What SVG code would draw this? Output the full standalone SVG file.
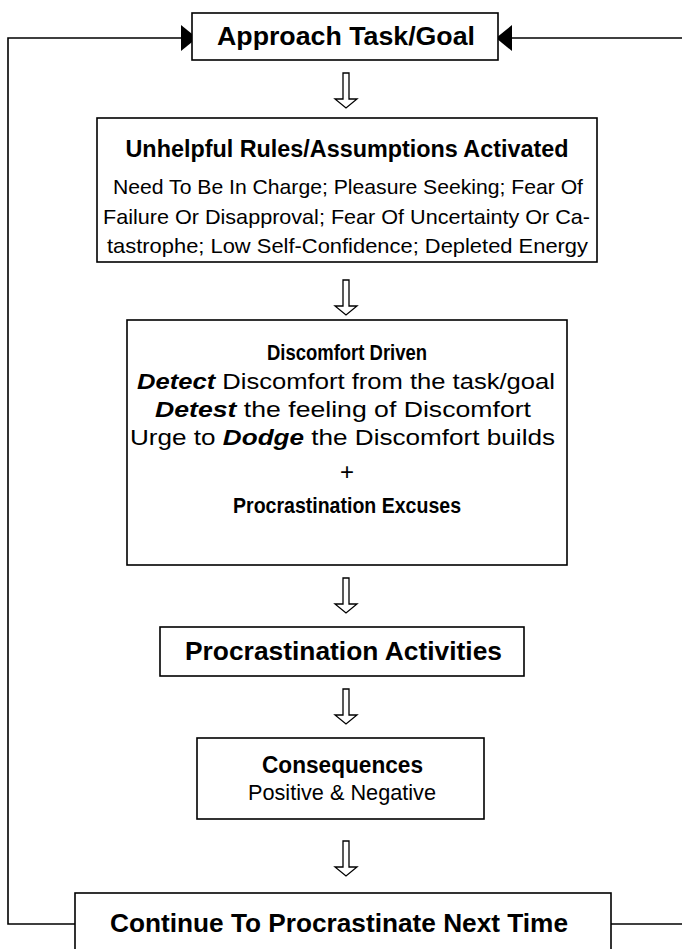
<svg xmlns="http://www.w3.org/2000/svg" width="682" height="949" viewBox="0 0 682 949">
<style>
.box{fill:#fff;stroke:#000;stroke-width:1.6}
.ln{fill:none;stroke:#000;stroke-width:1.6}
.ar{fill:#fff;stroke:#000;stroke-width:1.3;stroke-linejoin:miter}
.hd{fill:#000}
text{font-family:"Liberation Sans",Arial,sans-serif;fill:#000;text-anchor:middle}
.b{font-weight:bold}
.bi{font-weight:bold;font-style:italic}
</style>
<defs>
<path id="dn" d="M-3,0 H3 V26 H11 L0,35 L-11,26 H-3 Z"/>
</defs>
<g id="connectors">
<polyline class="ln" points="75,924 8,924 8,38 182,38"/>
<polygon class="hd" points="181,25 197,38 181,51"/>
<line class="ln" x1="510" y1="38" x2="682" y2="38"/>
<polygon class="hd" points="512,25 496,38 512,51"/>
<line class="ln" x1="611" y1="924" x2="682" y2="924"/>
<use href="#dn" class="ar" x="346" y="73"/>
<use href="#dn" class="ar" x="346" y="280"/>
<use href="#dn" class="ar" x="346" y="578"/>
<use href="#dn" class="ar" x="346" y="689"/>
<use href="#dn" class="ar" x="346" y="841"/>
</g>
<g id="approach">
<rect class="box" x="192" y="13" width="306" height="47"/>
<text class="b" x="346" y="45" font-size="25" textLength="258" lengthAdjust="spacingAndGlyphs">Approach Task/Goal</text>
</g>
<g id="rules">
<rect class="box" x="97" y="118" width="500" height="144"/>
<text class="b" x="347" y="157" font-size="23.5" textLength="443" lengthAdjust="spacingAndGlyphs">Unhelpful Rules/Assumptions Activated</text>
<text x="348" y="194" font-size="21" textLength="470" lengthAdjust="spacingAndGlyphs">Need To Be In Charge; Pleasure Seeking; Fear Of</text>
<text x="346.5" y="224" font-size="21" textLength="487" lengthAdjust="spacingAndGlyphs">Failure Or Disapproval; Fear Of Uncertainty Or Ca-</text>
<text x="347.5" y="253" font-size="21" textLength="481" lengthAdjust="spacingAndGlyphs">tastrophe; Low Self-Confidence; Depleted Energy</text>
</g>
<g id="discomfort">
<rect class="box" x="127" y="320" width="440" height="245"/>
<text class="b" x="347" y="360" font-size="22" textLength="160" lengthAdjust="spacingAndGlyphs">Discomfort Driven</text>
<text x="346" y="389" font-size="21.5" textLength="418" lengthAdjust="spacingAndGlyphs"><tspan class="bi">Detect</tspan> Discomfort from the task/goal</text>
<text x="343" y="417" font-size="21.5" textLength="376" lengthAdjust="spacingAndGlyphs"><tspan class="bi">Detest</tspan> the feeling of Discomfort</text>
<text x="342.5" y="445" font-size="21.5" textLength="425" lengthAdjust="spacingAndGlyphs">Urge to <tspan class="bi">Dodge</tspan> the Discomfort builds</text>
<text x="347" y="480" font-size="24">+</text>
<text class="b" x="347" y="513" font-size="22" textLength="228" lengthAdjust="spacingAndGlyphs">Procrastination Excuses</text>
</g>
<g id="activities">
<rect class="box" x="160" y="627" width="364" height="49"/>
<text class="b" x="343.5" y="660" font-size="26" textLength="317" lengthAdjust="spacingAndGlyphs">Procrastination Activities</text>
</g>
<g id="consequences">
<rect class="box" x="197" y="738" width="287" height="81"/>
<text class="b" x="342.5" y="773" font-size="23" textLength="161" lengthAdjust="spacingAndGlyphs">Consequences</text>
<text x="342" y="800" font-size="22" textLength="188" lengthAdjust="spacingAndGlyphs">Positive &amp; Negative</text>
</g>
<g id="continue">
<rect class="box" x="75" y="893" width="536" height="70"/>
<text class="b" x="339" y="932" font-size="26" textLength="458" lengthAdjust="spacingAndGlyphs">Continue To Procrastinate Next Time</text>
</g>
</svg>
